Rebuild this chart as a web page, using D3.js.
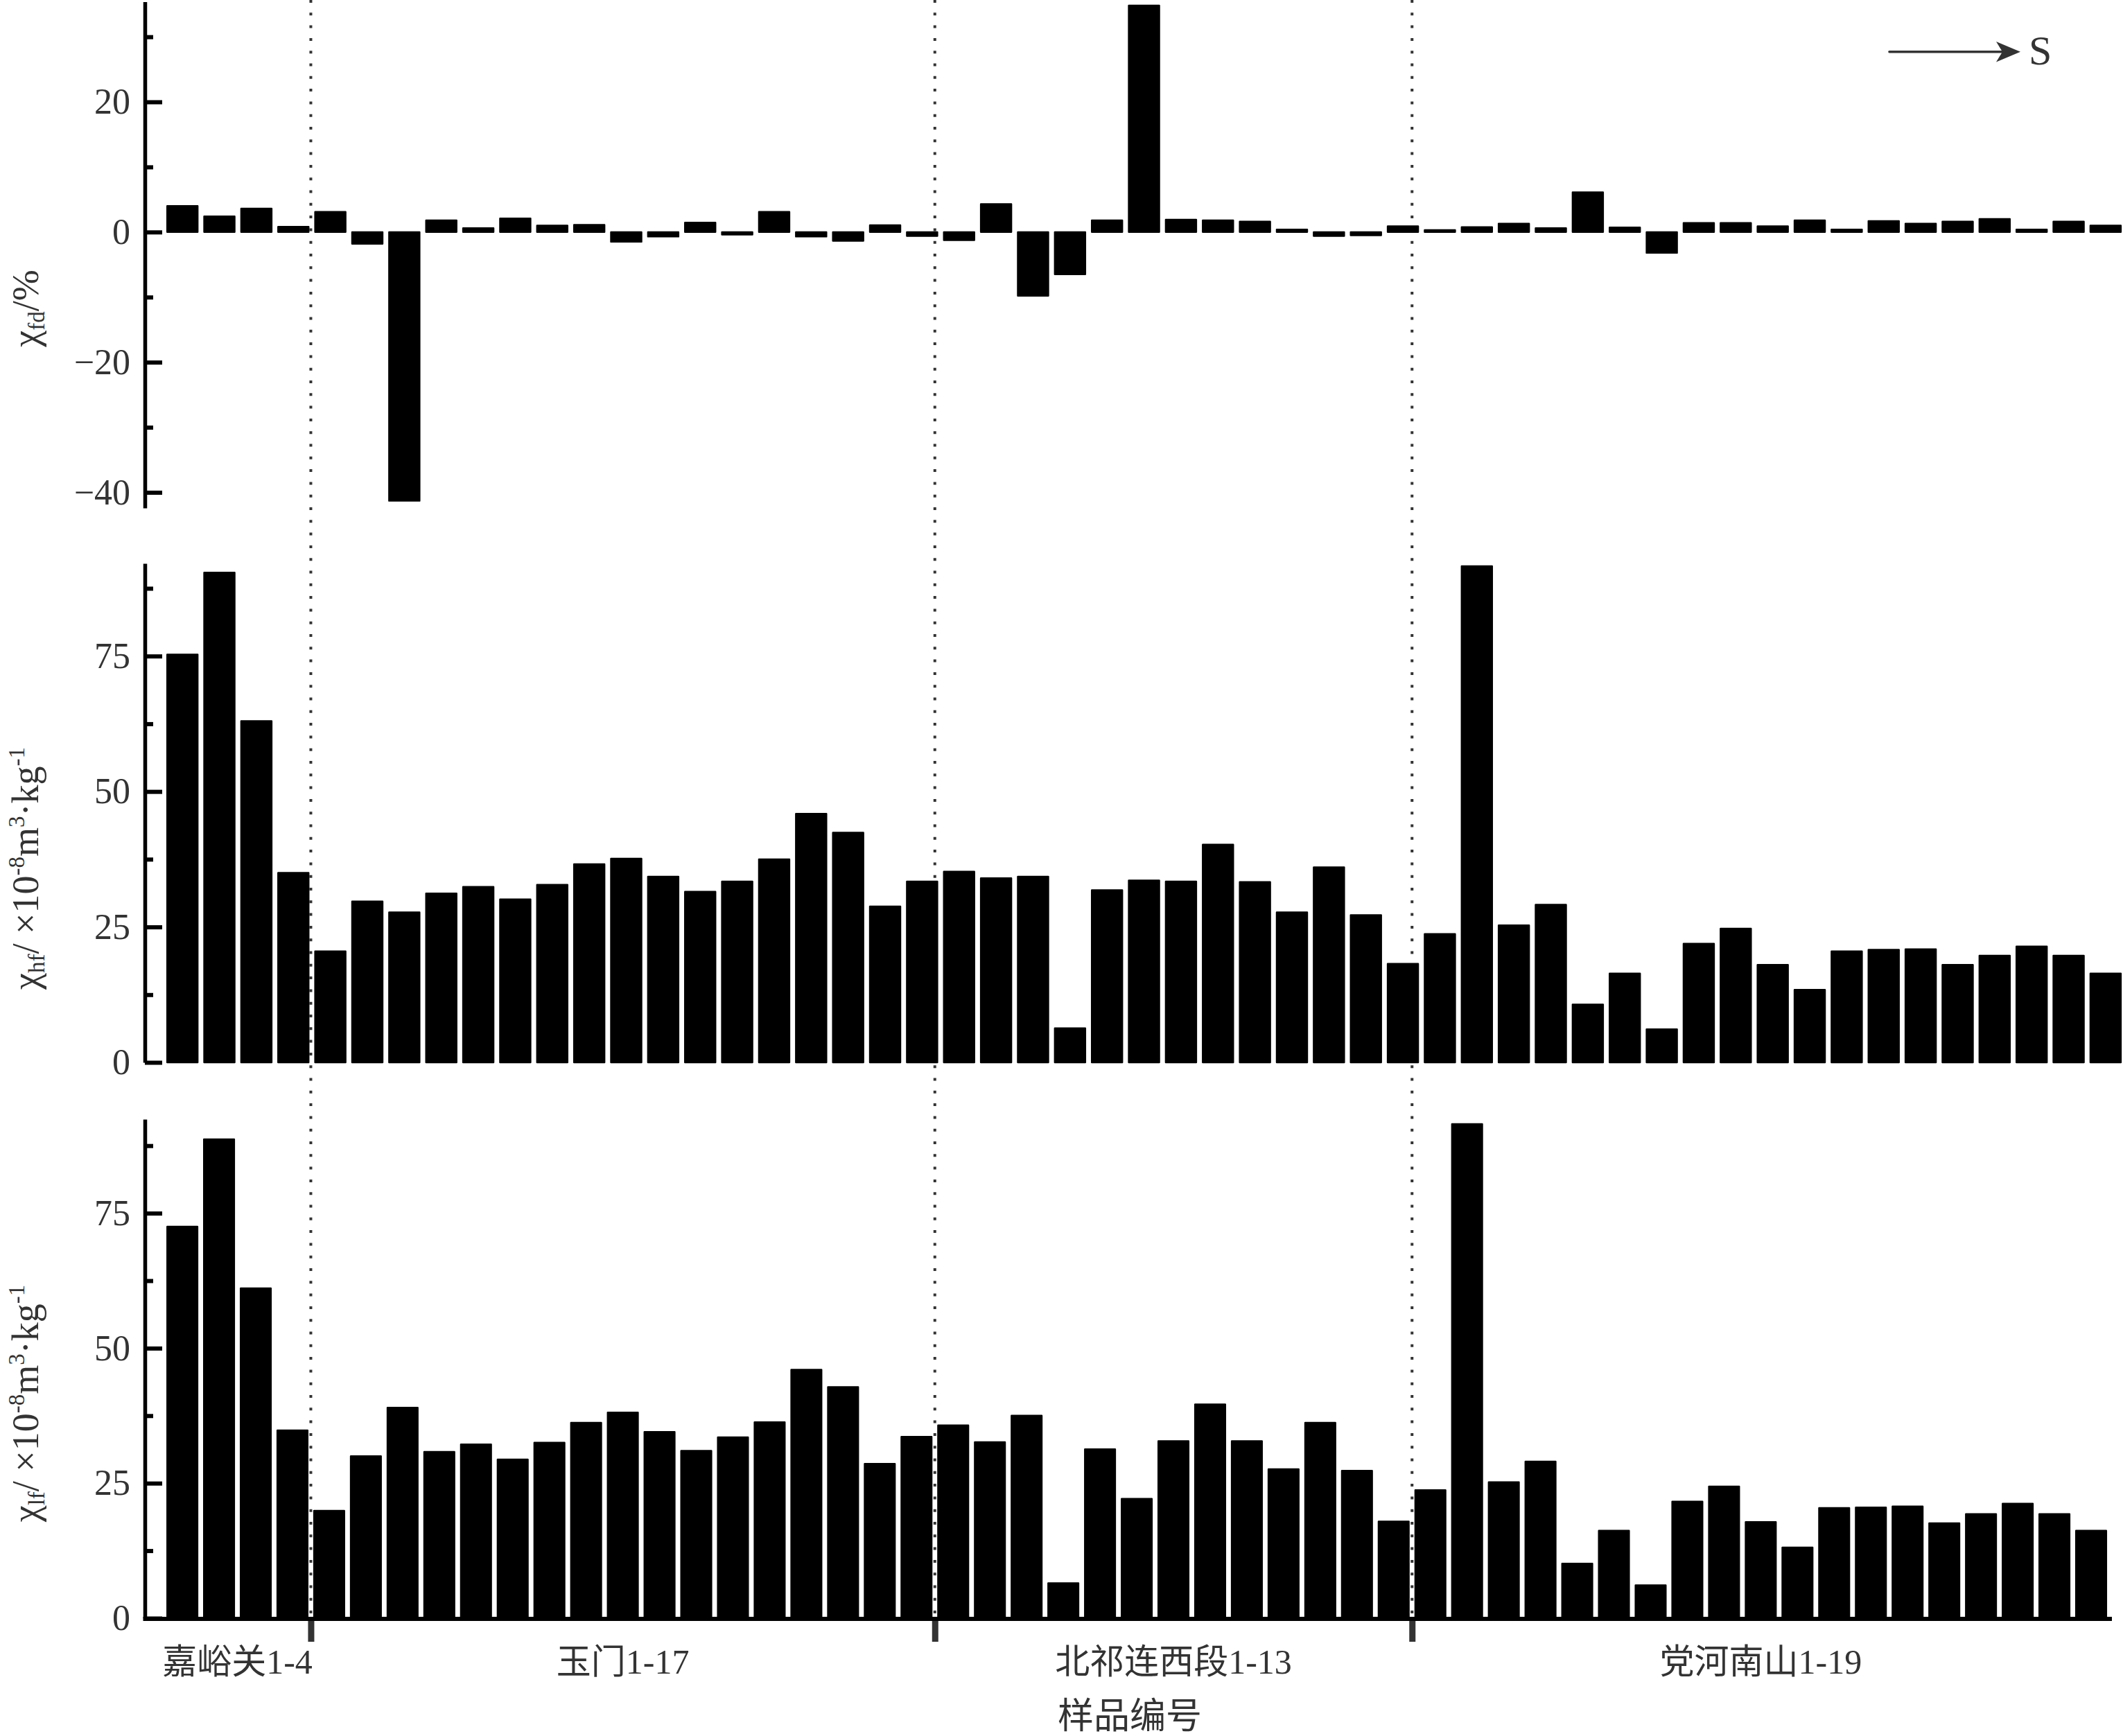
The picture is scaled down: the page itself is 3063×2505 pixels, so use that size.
<!DOCTYPE html>
<html><head><meta charset="utf-8">
<script src="https://cdn.jsdelivr.net/npm/d3@7"></script>
<style>html,body{margin:0;padding:0;background:#fff;} svg{display:block;}</style>
</head><body><svg id="c" width="3063" height="2505"></svg>
<script>
// ---- data ----
const groupNames = ["嘉峪关1-4", "玉门1-17", "北祁连西段1-13", "党河南山1-19"];
const groupSizes = [4, 17, 13, 19];
const sampleIds = groupSizes.flatMap((n, g) => d3.range(1, n + 1).map(k => groupNames[g] + "#" + k));

const chiFd = [4.0, 2.4, 3.6, 0.8, 3.1, -1.8, -41.3, 1.8, 0.6, 2.1,
  1.0, 1.1, -1.5, -0.7, 1.45, -0.4, 3.1, -0.7, -1.35, 1.05,
  -0.6, -1.25, 4.3, -9.8, -6.5, 1.8, 34.8, 1.9, 1.8, 1.6,
  0.4, -0.6, -0.5, 0.9, 0.3, 0.75, 1.3, 0.6, 6.1, 0.7,
  -3.2, 1.4, 1.4, 0.9, 1.8, 0.4, 1.7, 1.3, 1.6, 2.0,
  0.4, 1.6, 1.0];
const chiHf = [75.3, 90.4, 63.0, 35.0, 20.5, 29.7, 27.7, 31.2, 32.4, 30.1,
  32.8, 36.6, 37.6, 34.3, 31.5, 33.4, 37.5, 45.9, 42.4, 28.8,
  33.4, 35.2, 34.0, 34.3, 6.3, 31.8, 33.6, 33.4, 40.2, 33.3,
  27.7, 36.0, 27.2, 18.2, 23.7, 91.6, 25.3, 29.1, 10.7, 16.4,
  6.1, 21.9, 24.7, 18.0, 13.4, 20.5, 20.8, 20.9, 18.0, 19.7,
  21.4, 19.7, 16.4];
const chiLf = [72.5, 88.7, 61.1, 34.8, 19.9, 30.0, 39.0, 30.8, 32.2, 29.4,
  32.5, 36.2, 38.1, 34.5, 31.0, 33.5, 36.3, 46.0, 42.8, 28.6,
  33.6, 35.7, 32.6, 37.5, 6.5, 31.3, 22.1, 32.8, 39.6, 32.8,
  27.6, 36.2, 27.3, 17.9, 23.7, 91.5, 25.2, 29.0, 10.1, 16.2,
  6.1, 21.6, 24.4, 17.8, 13.1, 20.4, 20.5, 20.7, 17.6, 19.3,
  21.2, 19.3, 16.2];
const fdMajorTicks = [-40, -20, 0, 20];
const fdMinorTicks = [-30, -10, 10, 30];
const chiMajorTicks = [0, 25, 50, 75];
const chiMinorTicks = [12.5, 37.5, 62.5, 87.5];
const xAxisTitle = "样品编号";
const directionLabel = "S";

// ---- layout ----
const svg = d3.select("#c");
const serif = "'Liberation Serif','Times New Roman','Noto Sans CJK SC',serif";
const axisX = 209;
const ink = "#333";

const xTop = d3.scaleBand().domain(sampleIds).range([236.5, 3064.6]).paddingInner(0.13).paddingOuter(0.065);
const xBot = d3.scaleBand().domain(sampleIds).range([236.6, 3043.5]).paddingInner(0.13).paddingOuter(0.065);
const xBoundary = d3.scaleLinear().domain([0, sampleIds.length]).range(xBot.range());

const panels = [
  { data: chiFd, x: xTop, y: d3.scaleLinear().domain([-42.4, 35.4]).range([733, 2.4]),
    major: fdMajorTicks, minor: fdMinorTicks, labelY: 445,
    label: [["χ", 0], ["fd", 1], ["/%", 0]] },
  { data: chiHf, x: xTop, y: d3.scaleLinear().domain([0, 92.1]).range([1533, 813]),
    major: chiMajorTicks, minor: chiMinorTicks, labelY: 1253,
    label: [["χ", 0], ["hf", 1], ["/ ×10", 0], ["-8", 2], ["m", 0], ["3", 2], ["·kg", 0], ["-1", 2]] },
  { data: chiLf, x: xBot, y: d3.scaleLinear().domain([0, 92.4]).range([2335, 1615]),
    major: chiMajorTicks, minor: chiMinorTicks, labelY: 2025,
    label: [["χ", 0], ["lf", 1], ["/ ×10", 0], ["-8", 2], ["m", 0], ["3", 2], ["·kg", 0], ["-1", 2]] }
];

// dotted group separators
let cum = 0;
const boundaries = [];
groupSizes.forEach((n, i) => { if (i > 0) boundaries.push(cum); cum += n; });
svg.append("g").selectAll("line").data(boundaries).join("line")
  .attr("x1", d => xBoundary(d)).attr("x2", d => xBoundary(d))
  .attr("y1", 0).attr("y2", 2335)
  .attr("stroke", ink).attr("stroke-width", 4).attr("stroke-dasharray", "4 14.3");

const fmt = d => d < 0 ? "\u2212" + Math.abs(d) : String(d);

panels.forEach(p => {
  const g = svg.append("g");
  const y0 = p.y(0);
  const sw = 2.4;
  g.selectAll("rect").data(p.data).join("rect")
    .attr("x", (d, i) => p.x(sampleIds[i]) + sw / 2)
    .attr("width", p.x.bandwidth() - sw)
    .attr("y", d => Math.min(p.y(d), y0))
    .attr("height", d => Math.abs(p.y(d) - y0))
    .attr("fill", "#000").attr("stroke", "#000").attr("stroke-width", sw)
    .attr("stroke-linejoin", "round");

  // major ticks + labels
  const ax = g.append("g").attr("transform", `translate(${axisX},0)`)
    .call(d3.axisLeft(p.y).tickValues(p.major).tickSizeInner(-25).tickSizeOuter(0)
      .tickPadding(21).tickFormat(fmt));
  ax.select(".domain").attr("stroke", "#000").attr("stroke-width", 5.5);
  ax.selectAll(".tick line").attr("stroke", "#000").attr("stroke-width", 6);
  ax.selectAll(".tick text").attr("fill", ink).attr("font-family", serif).attr("font-size", 52);
  // minor ticks
  const mx = g.append("g").attr("transform", `translate(${axisX},0)`)
    .call(d3.axisLeft(p.y).tickValues(p.minor).tickSizeInner(-12).tickSizeOuter(0).tickFormat(""));
  mx.select(".domain").remove();
  mx.selectAll(".tick line").attr("stroke", "#000").attr("stroke-width", 6);

  // axis title
  const t = g.append("text").attr("transform", `translate(55,${p.labelY}) rotate(-90)`)
    .attr("text-anchor", "middle").attr("fill", ink)
    .attr("font-family", serif).attr("font-size", 54);
  let shift = 0;
  p.label.forEach(([s, kind]) => {
    const target = kind === 1 ? 9 : kind === 2 ? -20 : 0;
    t.append("tspan").text(s).attr("font-size", kind ? 33 : 54).attr("dy", target - shift);
    shift = target;
  });
});

// bottom x axis
const bx = svg.append("g");
bx.append("line").attr("x1", axisX - 2.5).attr("x2", 3047).attr("y1", 2336).attr("y2", 2336)
  .attr("stroke", "#000").attr("stroke-width", 6);
const xa = bx.append("g").attr("transform", "translate(0,2339)")
  .call(d3.axisBottom(xBoundary).tickValues(boundaries).tickSizeInner(30).tickSizeOuter(0).tickFormat(""));
xa.select(".domain").remove();
xa.selectAll(".tick line").attr("stroke", ink).attr("stroke-width", 9);

// group labels
let start = 0;
const groupCenters = groupSizes.map(n => { const c = start + n / 2; start += n; return c; });
bx.selectAll("text.grp").data(groupNames).join("text").attr("class", "grp")
  .attr("x", (d, i) => xBoundary(groupCenters[i])).attr("y", 2415)
  .attr("text-anchor", "middle").attr("fill", ink)
  .attr("font-family", serif).attr("font-size", 50).text(d => d);
bx.append("text").attr("x", 1630).attr("y", 2494).attr("text-anchor", "middle")
  .attr("fill", ink).attr("font-family", serif).attr("font-size", 52).text(xAxisTitle);

// direction arrow
const ar = svg.append("g");
ar.append("line").attr("x1", 2726).attr("x2", 2890).attr("y1", 74.7).attr("y2", 74.7)
  .attr("stroke", ink).attr("stroke-width", 3.6).attr("stroke-linecap", "round");
ar.append("path").attr("d", "M2915,74.7 L2880,60 L2889,74.7 L2880,89.4 Z").attr("fill", ink);
ar.append("text").attr("x", 2927).attr("y", 93).attr("fill", ink)
  .attr("font-family", serif).attr("font-size", 60).text(directionLabel);
</script></body></html>
